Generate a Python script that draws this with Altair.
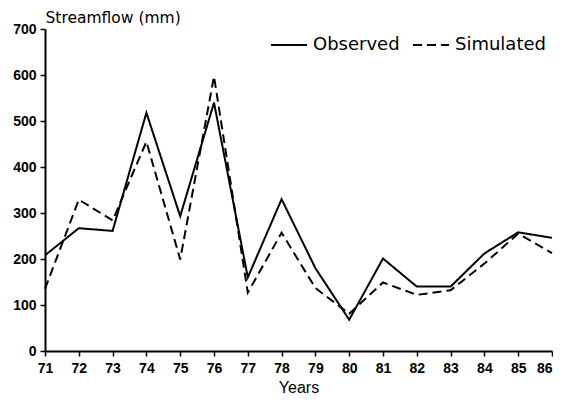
import altair as alt
import pandas as pd

years = [71, 72, 73, 74, 75, 76, 77, 78, 79, 80, 81, 82, 83, 84, 85, 86]
observed = [208, 267, 261, 518, 293, 540, 160, 330, 180, 68, 201, 140, 140, 212, 258, 246]
simulated = [135, 329, 284, 455, 199, 597, 127, 257, 137, 81, 149, 122, 132, 190, 255, 213]
series = ["Observed", "Simulated"]
y_ticks = [0, 100, 200, 300, 400, 500, 600, 700]

rows = []
for i, yr in enumerate(years):
    rows.append({"year": yr, "value": observed[i], "series": series[0]})
    rows.append({"year": yr, "value": simulated[i], "series": series[1]})
df = pd.DataFrame(rows)

num_font = "Liberation Sans"

chart = alt.Chart(df).mark_line(strokeWidth=2, color="black").encode(
    x=alt.X("year:Q",
            scale=alt.Scale(domain=[71, 86], nice=False, zero=False),
            axis=alt.Axis(values=years, format="d", title="Years",
                          labelFont=num_font, labelFontSize=14, labelFontWeight="bold",
                          labelPadding=5, titleFont="Liberation Sans", titleFontSize=16,
                          titleFontWeight="normal", titlePadding=4,
                          labelFlush=False,
                          labelAlign={"condition": {"test": "datum.value === 86", "value": "right"},
                                      "value": "center"})),
    y=alt.Y("value:Q",
            scale=alt.Scale(domain=[0, 700], nice=False),
            axis=alt.Axis(values=y_ticks, title="Streamflow (mm)",
                          labelFont=num_font, labelFontSize=14, labelFontWeight="bold",
                          labelPadding=4,
                          titleAngle=0, titleAlign="left", titleBaseline="alphabetic",
                          titleX=0, titleY=-7, titleFont="DejaVu Sans",
                          titleFontSize=15.5, titleFontWeight="normal")),
    strokeDash=alt.StrokeDash("series:N",
                              scale=alt.Scale(domain=series, range=[[1, 0], [9, 5]]),
                              legend=alt.Legend(title=None, orient="none", direction="horizontal",
                                                legendX=225, legendY=-3, padding=0,
                                                symbolType="stroke", symbolSize=1296,
                                                symbolStrokeColor="black", symbolStrokeWidth=2,
                                                labelFont="DejaVu Sans", labelFontSize=18,
                                                labelColor="black", labelOffset=5,
                                                columnPadding=9)),
    detail="series:N",
).properties(
    width=507, height=322,
    autosize=alt.AutoSizeParams(type="none"),
    padding={"left": 37, "top": 21, "right": 1, "bottom": 46},
).configure_view(stroke=None).configure_axis(
    grid=False, domainColor="black", domainWidth=2, tickColor="black",
    tickWidth=1.5, tickSize=5, labelColor="black", titleColor="black",
)

chart.save("out.html", embed_options={"renderer": "svg", "actions": False})
